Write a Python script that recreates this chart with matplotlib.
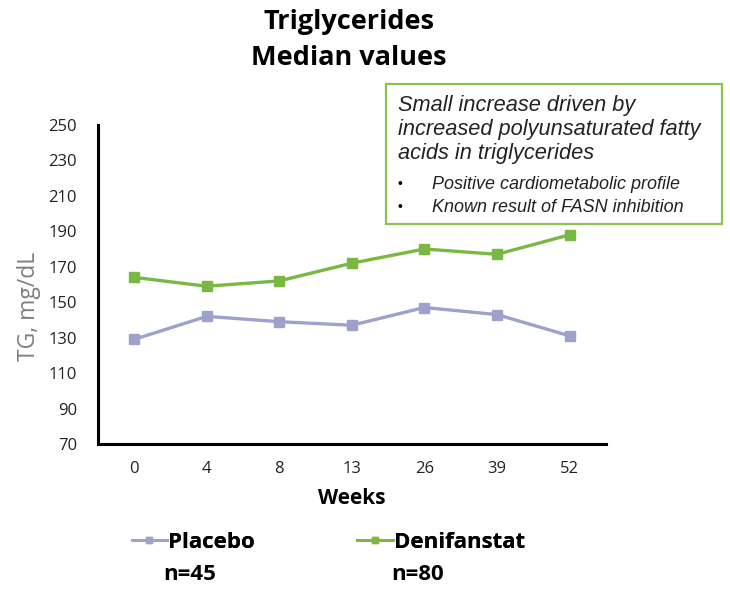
import numpy as np
import matplotlib
matplotlib.use('Agg')
import matplotlib.pyplot as plt

# Data
weeks       = ['0', '4', '8', '13', '26', '39', '52']
placebo     = [129, 142, 139, 137, 147, 143, 131]
denifanstat = [164, 159, 162, 172, 180, 177, 188]
yticks      = [70, 90, 110, 130, 150, 170, 190, 210, 230, 250]

series_names = ['Placebo', 'Denifanstat']
series_n     = ['n=45', 'n=80']

c_placebo = '#9ea2cb'
c_deni    = '#7ab843'
c_box     = '#8cc152'

main_font = 'Open Sans'
note_font = 'Liberation Sans'

fig = plt.figure(figsize=(7.3, 5.92), dpi=100)
ax = fig.add_axes([0.134, 0.25, 0.696, 0.539])

x = np.arange(len(weeks))
l1, = ax.plot(x, placebo, '-s', color=c_placebo, lw=2.4, ms=6.5, label=series_names[0])
l2, = ax.plot(x, denifanstat, '-s', color=c_deni, lw=2.4, ms=6.5, label=series_names[1])

ax.set_xlim(-0.5, len(weeks) - 0.5)
ax.set_ylim(70, 250)
ax.set_xticks(x)
ax.set_xticklabels(weeks)
ax.set_yticks(yticks)

for s in ['top', 'right']:
    ax.spines[s].set_visible(False)
for s in ['left', 'bottom']:
    ax.spines[s].set_linewidth(2.2)
    ax.spines[s].set_color('black')
ax.tick_params(axis='y', length=0, labelsize=12, colors='#222222', pad=15)
ax.tick_params(axis='x', length=0, labelsize=12, colors='#222222', pad=12)
for t in ax.get_xticklabels() + ax.get_yticklabels():
    t.set_fontfamily(main_font)

ax.set_ylabel('TG, mg/dL', fontsize=16.5, color='#7f7f7f', family=main_font)
ax.yaxis.set_label_coords(-0.112, 0.43)
ax.set_xlabel('Weeks', fontsize=15, fontweight='bold', family=main_font, labelpad=8)

# title
fig.text(0.478, 0.962, 'Triglycerides', ha='center', va='center',
         fontsize=19.5, fontweight='bold', family=main_font)
fig.text(0.478, 0.902, 'Median values', ha='center', va='center',
         fontsize=19.5, fontweight='bold', family=main_font)

# annotation box
box = plt.Rectangle((0.529, 0.622), 0.460, 0.236, transform=fig.transFigure,
                    facecolor='white', edgecolor=c_box, lw=1.6)
fig.add_artist(box)
note_lines = ['Small increase driven by', 'increased polyunsaturated fatty',
              'acids in triglycerides']
for yy, txt in zip([0.822, 0.782, 0.741], note_lines):
    fig.text(0.545, yy, txt, fontsize=15.7, style='italic',
             family=note_font, va='center', color='#222222')
bullets = ['Positive cardiometabolic profile', 'Known result of FASN inhibition']
for yy, txt in zip([0.689, 0.650], bullets):
    fig.text(0.545, yy, '\u2022', fontsize=10, family=note_font, va='center')
    fig.text(0.592, yy, txt, fontsize=13, style='italic', family=note_font,
             va='center', color='#222222')

# legend
for i, (h, name, n) in enumerate(zip([l1, l2], series_names, series_n)):
    lg = fig.legend(handles=[h], labels=[name], loc='center left',
                    bbox_to_anchor=([0.165, 0.474][i], 0.084), frameon=False,
                    handlelength=1.6, handletextpad=0.05, borderpad=0,
                    prop={'family': main_font, 'weight': 'bold', 'size': 16},
                    markerscale=0.6)
    for lh in lg.get_lines():
        lh.set_linewidth(2)
    fig.add_artist(lg)
    fig.text([0.224, 0.536][i], 0.030, n, fontsize=16, fontweight='bold',
             family=main_font, va='center')

fig.savefig('out.png', dpi=100)
